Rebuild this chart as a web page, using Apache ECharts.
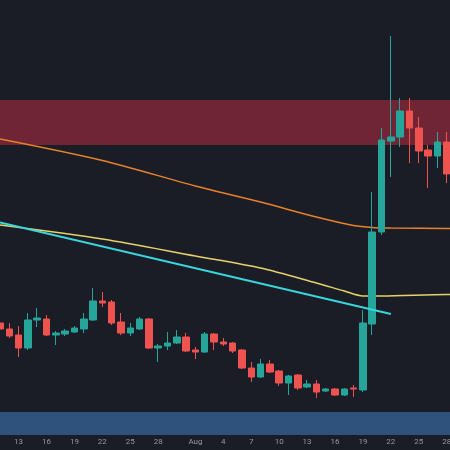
<!DOCTYPE html>
<html>
<head>
<meta charset="utf-8">
<script src="https://cdn.jsdelivr.net/npm/echarts@6/dist/echarts.min.js"></script>
<style>
  html, body { margin: 0; padding: 0; background: #1a1d26; }
  #chart { width: 450px; height: 450px; }
</style>
</head>
<body>
<div id="chart"></div>
<script>
// daily candles, Jul 11 - Aug 28 (Aug 29 is an empty slot past the right edge)
const dates = [
  'Jul 11','Jul 12','Jul 13','Jul 14','Jul 15','Jul 16','Jul 17','Jul 18','Jul 19','Jul 20',
  'Jul 21','Jul 22','Jul 23','Jul 24','Jul 25','Jul 26','Jul 27','Jul 28','Jul 29','Jul 30',
  'Jul 31','Aug 1','Aug 2','Aug 3','Aug 4','Aug 5','Aug 6','Aug 7','Aug 8','Aug 9',
  'Aug 10','Aug 11','Aug 12','Aug 13','Aug 14','Aug 15','Aug 16','Aug 17','Aug 18','Aug 19',
  'Aug 20','Aug 21','Aug 22','Aug 23','Aug 24','Aug 25','Aug 26','Aug 27','Aug 28','Aug 29'
]

// [open, close, low, high]
const candles = [
  [112,106,104,115],[106,99,97,112],[100,87,78,109],[87,115,85,122],[115,117,108,127],
  [116,100,99,120],[100,102,90,104],[101,104,99,106],[103,107,102,109],[106,116,102,122],
  [115,134,114,147],[134,132,128,143],[133,112,110,135],[113,102,100,122],[102,107,99,112],
  [106,116,105,118],[116,87,86,117],[87,89,73,91],[89,92,85,103],[92,98,91,105],
  [98,84,83,102],[85,83,76,88],[83,101,82,103],[101,93,85,102],[93,91,89,97],
  [92,84,82,93],[85,67,66,86],[67,58,53,73],[58,71,57,76],[71,63,62,75],
  [64,52,49,65],[52,59,40,60],[60,47,45,61],[48,51,47,55],[51,43,37,55],
  [44,46,43,47],[46,40,39,47],[40,46,39,47],[47,46,38,50],[45,112,43,125],
  [111,203,100,243],[203,295,200,307],[294,298,258,399],[298,324,288,337],[324,307,272,337],
  [307,284,272,318],[285,279,247,290],[279,293,267,303],[293,261,252,303]
]

// moving averages, read at a few points
const maSlow = [
  ['Jul 11',296],['Jul 22',274.5],['Aug 1',249],['Aug 8',233],['Aug 14',218],
  ['Aug 18',209.5],['Aug 20',207.5],['Aug 22',207],['Aug 28',206.5],['Aug 29',206.5]
]
const maFast = [
  ['Jul 11',210],['Jul 22',196],['Aug 1',179],['Aug 8',167],['Aug 14',152],
  ['Aug 17',144],['Aug 19',139],['Aug 21',139],['Aug 28',140.5],['Aug 29',140.5]
]
const trendLine = [['Jul 11',212.5],['Aug 22',121]]

// supply / demand zones [from, to]
const resistZone = [290, 335]
const supportZone = [0, 23]

const tickDates = ['Jul 13','Jul 16','Jul 19','Jul 22','Jul 25','Jul 28','Aug 1','Aug 4',
  'Aug 7','Aug 10','Aug 13','Aug 16','Aug 19','Aug 22','Aug 25','Aug 28']
const tickLabels = ['13','16','19','22','25','28','Aug','4','7','10','13','16','19','22','25','28']

const chart = echarts.init(document.getElementById('chart'))

const option = {
  backgroundColor: '#1a1d26',
  animation: false,
  // plot is a bit wider than the window so the last day sits near the edge
  grid: { left: 0, width: 456, top: 0, bottom: 15, outerBoundsMode: 'none' },
  xAxis: {
    type: 'category',
    data: dates,
    boundaryGap: false,
    axisLine: { show: false },
    axisTick: { show: false },
    splitLine: { show: false },
    axisLabel: {
      color: '#9598a1',
      fontSize: 8,
      fontFamily: 'Roboto',
      margin: 3,
      interval: (i, v) => tickDates.indexOf(v) >= 0,
      formatter: v => tickLabels[tickDates.indexOf(v)]
    }
  },
  yAxis: {
    type: 'value',
    min: 0,
    max: 435,
    show: false,
    splitLine: { show: false }
  },
  series: [
    {
      type: 'line',
      data: [],
      z: 1,
      silent: true,
      markArea: {
        silent: true,
        data: [
          [{ yAxis: resistZone[0], itemStyle: { color: '#6f2533' } }, { yAxis: resistZone[1] }],
          [{ yAxis: supportZone[0], itemStyle: { color: '#2f527d' } }, { yAxis: supportZone[1] }]
        ]
      }
    },
    {
      type: 'line',
      data: maSlow,
      z: 3,
      smooth: 0.3,
      showSymbol: false,
      lineStyle: { color: '#e8812c', width: 1.5 }
    },
    {
      type: 'line',
      data: maFast,
      z: 3,
      smooth: 0.3,
      showSymbol: false,
      lineStyle: { color: '#e6d16b', width: 1.5 }
    },
    {
      type: 'candlestick',
      data: candles,
      z: 4,
      barWidth: 7,
      itemStyle: {
        color: '#26a69a',
        color0: '#ef5350',
        borderColor: '#26a69a',
        borderColor0: '#ef5350',
        borderWidth: 1
      }
    },
    {
      type: 'line',
      data: trendLine,
      z: 5,
      showSymbol: false,
      lineStyle: { color: '#3ad6dc', width: 2 }
    }
  ]
}

chart.setOption(option)
</script>
</body>
</html>
